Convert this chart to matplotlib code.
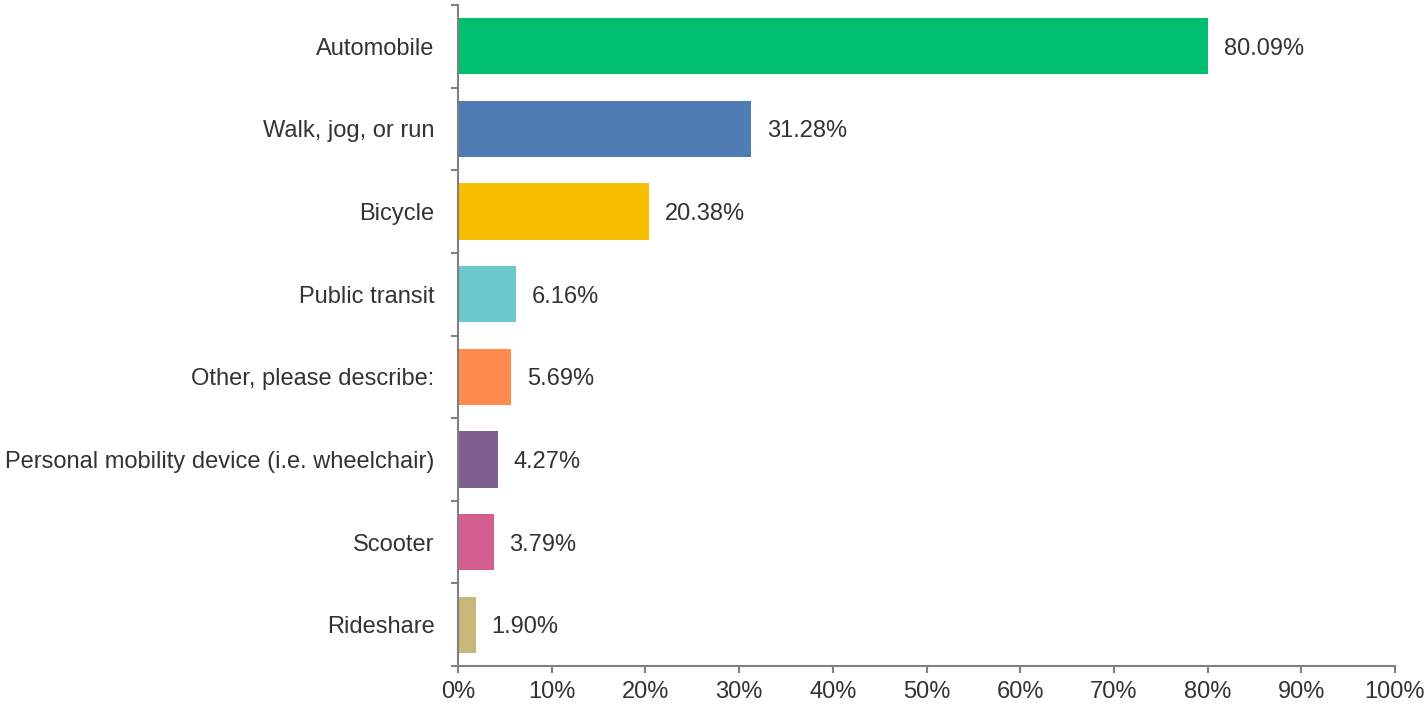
import matplotlib
matplotlib.use("Agg")
from matplotlib import pyplot as plt
import numpy as np

# data
categories = ["Automobile", "Walk, jog, or run", "Bicycle", "Public transit",
              "Other, please describe:", "Personal mobility device (i.e. wheelchair)",
              "Scooter", "Rideshare"]
percents = [80.09, 31.28, 20.38, 6.16, 5.69, 4.27, 3.79, 1.90]
colours = ["#00BF6F", "#507CB6", "#F9BE00", "#6BC8CD",
           "#FF8B4F", "#7F5F90", "#D25F90", "#C7B879"]
xticks = [0, 10, 20, 30, 40, 50, 60, 70, 80, 90, 100]

plt.rcParams['font.family'] = ['Liberation Sans', 'DejaVu Sans']
txt = "#333333"
spine = "#808080"
fs = 17

fig = plt.figure(figsize=(14.25, 7.05), dpi=100)
ax = fig.add_axes([458/1425, 1-666/705, (1395-458)/1425, (666-5)/705])

y = np.arange(len(categories))
ax.barh(y, percents, height=0.68, color=colours)
for yi, p in zip(y, percents):
  ax.text(p + 1.7, yi, f"{p:.2f}%", va="center_baseline", ha="left", fontsize=fs, color=txt)

ax.set_xlim(0, 100)
ax.set_ylim(len(categories) - 0.5, -0.5)
ax.set_xticks(xticks)
ax.set_xticklabels([f"{t}%" for t in xticks], fontsize=fs, color=txt)
# category labels in middle, tick marks on the boundaries
ax.set_yticks(y)
ax.set_yticklabels(categories, fontsize=fs, color=txt)
ax.tick_params(axis="y", length=0, pad=17)
ax.set_yticks(np.arange(-0.5, len(categories)), minor=True)
ax.tick_params(axis="y", which="minor", length=5, width=1.5, color=spine, direction="out")
ax.tick_params(axis="x", length=5, width=1.5, color=spine, direction="out", pad=6)

for s in ["top", "right"]:
  ax.spines[s].set_visible(False)
for s in ["left", "bottom"]:
  ax.spines[s].set_color(spine)
  ax.spines[s].set_linewidth(1.5)

fig.savefig("out.png", dpi=100)
